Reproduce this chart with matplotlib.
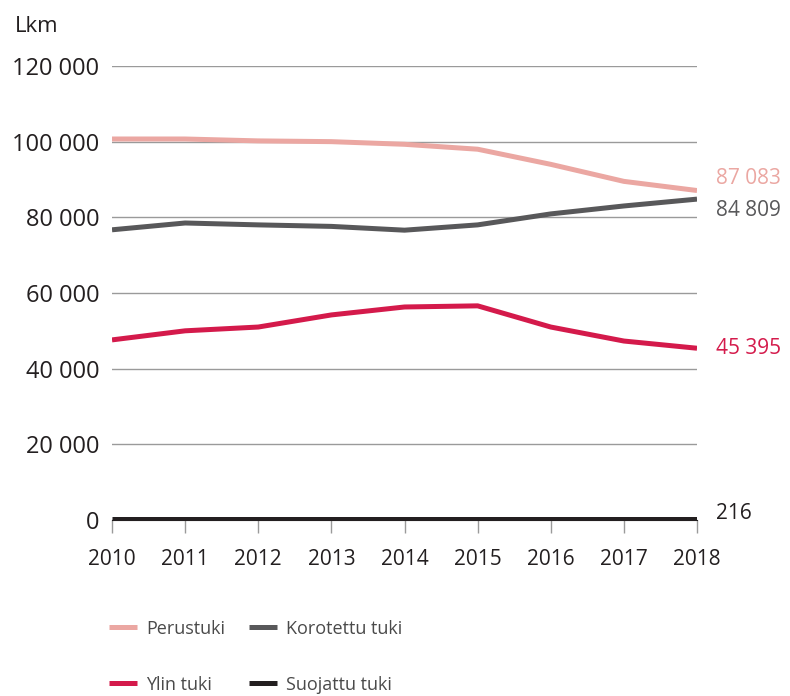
import matplotlib.pyplot as plt
from matplotlib.ticker import FuncFormatter

plt.rcParams['font.family'] = ['Open Sans', 'DejaVu Sans']

# --- data ---
years = [2010, 2011, 2012, 2013, 2014, 2015, 2016, 2017, 2018]
perustuki = [100700, 100700, 100200, 100000, 99300, 98000, 94000, 89500, 87083]
korotettu = [76700, 78500, 78000, 77600, 76600, 78000, 80900, 83000, 84809]
ylin = [47600, 50000, 51000, 54200, 56300, 56600, 51000, 47300, 45395]
suojattu = [216, 216, 216, 216, 216, 216, 216, 216, 216]

names = ["Perustuki", "Korotettu tuki", "Ylin tuki", "Suojattu tuki"]
colors = ["#EBA7A2", "#58585A", "#D41A4B", "#231F20"]
end_offsets = [9, -8, 0, 4]  # label nudges in points

fig = plt.figure(figsize=(7.9, 6.96), dpi=100)
ax = fig.add_axes([0.1418, 0.2529, 0.7405, 0.6523])

series = [perustuki, korotettu, ylin, suojattu]
handles = []
for vals, name, col in zip(series, names, colors):
    h, = ax.plot(years, vals, color=col, lw=3.6, solid_capstyle='butt', label=name, zorder=3)
    handles.append(h)

for vals, col, dy in zip(series, colors, end_offsets):
    last = vals[-1]
    txt = f"{last:,}".replace(",", " ")
    ax.annotate(txt, (years[-1], last), xytext=(14, dy), textcoords='offset points',
                va='center', ha='left', fontsize=15, color=col, annotation_clip=False)

ax.set_xlim(2010, 2018)
ax.set_ylim(0, 120000)
ax.set_yticks(range(0, 120001, 20000))
ax.yaxis.set_major_formatter(FuncFormatter(lambda v, p: f"{int(v):,}".replace(",", " ")))
ax.set_xticks(years)
ax.grid(axis='y', color='#9A9A9A', lw=1.0, zorder=1)
for s in ['left', 'right', 'top']:
    ax.spines[s].set_visible(False)
ax.spines['bottom'].set_color('#231F20')
ax.tick_params(axis='y', length=0, pad=9, labelsize=17, labelcolor='#231F20')
ax.tick_params(axis='x', length=9, width=1, color='#9A9A9A', pad=12, labelsize=15,
               labelcolor='#231F20')

fig.text(0.019, 0.962, "Lkm", fontsize=16, color='#231F20', va='center', ha='left')

order = [0, 2, 1, 3]
leg = fig.legend([handles[i] for i in order], [names[i] for i in order],
                 loc='upper left', bbox_to_anchor=(0.118, 0.133), ncol=2, frameon=False,
                 fontsize=13, handlelength=1.55, handletextpad=0.5,
                 labelspacing=2.1, columnspacing=1.3, labelcolor='#4A4A4A')

fig.savefig("out.png", dpi=100)
